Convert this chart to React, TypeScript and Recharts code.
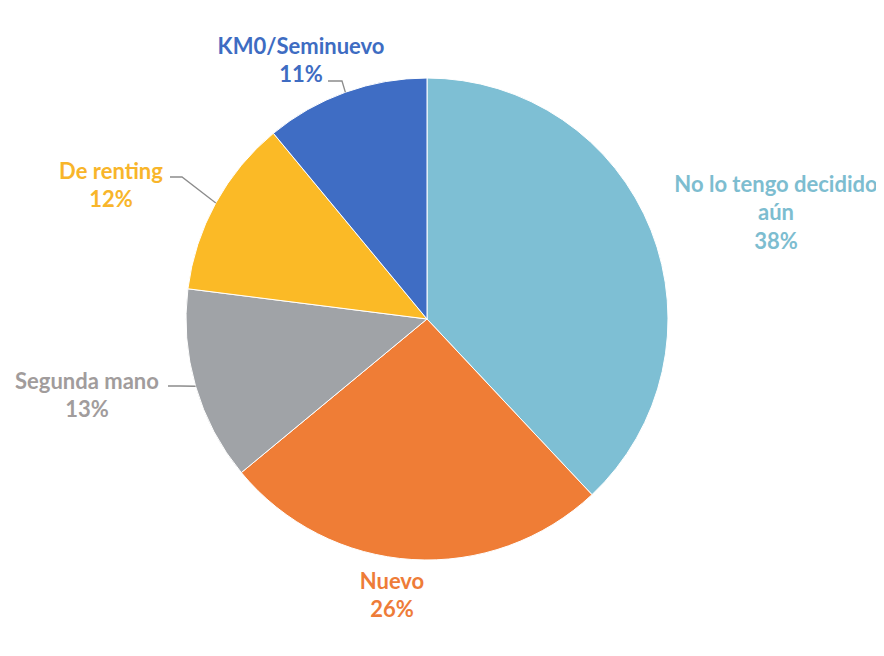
import React from "react";
import { PieChart, Pie, Cell } from "recharts";

const categories = ["No lo tengo decidido aún", "Nuevo", "Segunda mano", "De renting", "KM0/Seminuevo"];
const labelLines = [["No lo tengo decidido", "aún"], ["Nuevo"], ["Segunda mano"], ["De renting"], ["KM0/Seminuevo"]];
const values = [38, 26, 13, 12, 11];
const sliceColors = ["#7EBFD4", "#EF7D36", "#A0A3A7", "#FBBA26", "#3F6DC4"];
const textColors = ["#7DBDD0", "#EE7C38", "#A19C9C", "#F8B52A", "#3E6CC2"];

const data = categories.map((name, i) => ({ name, value: values[i] }));

// label layout (offsets from pie centre)
const LAYOUT = [
  { dx: 349, y0: -136, leader: null },
  { dx: -35, y0: 261, leader: null },
  { dx: -340, y0: 61, leader: { ex: -247, ey: 67, lx: -259 } },
  { dx: -316, y0: -149, leader: { ex: -245, ey: -142, lx: -257 } },
  { dx: -126, y0: -274, leader: { ex: -85, ey: -238, lx: -99 } },
];
const LINE_H = 28.5;
const RAD = Math.PI / 180;

const renderLabel = (props: any) => {
  const { cx, cy, midAngle, outerRadius, index, value } = props;
  const lay = LAYOUT[index];
  const lines = [...labelLines[index], `${value}%`];
  const color = textColors[index];
  let leader = null;
  if (lay.leader) {
    const px = cx + outerRadius * Math.cos(-midAngle * RAD);
    const py = cy + outerRadius * Math.sin(-midAngle * RAD);
    const l = lay.leader;
    leader = (
      <polyline
        points={`${px},${py} ${cx + l.ex},${cy + l.ey} ${cx + l.lx},${cy + l.ey}`}
        fill="none"
        stroke="#8C8C8C"
        strokeWidth={1.3}
      />
    );
  }
  return (
    <g key={`lbl-${index}`}>
      {leader}
      <text
        x={cx + lay.dx}
        y={cy + lay.y0}
        fill={color}
        textAnchor="middle"
        fontFamily="Lato, 'Open Sans', sans-serif"
        fontWeight={700}
        fontSize={22}
      >
        {lines.map((t, i) => (
          <tspan key={i} x={cx + lay.dx} y={cy + lay.y0 + i * LINE_H} dominantBaseline="central">
            {t}
          </tspan>
        ))}
      </text>
    </g>
  );
};

export default function App() {
  return (
    <div style={{ width: 876, height: 640, background: "#fff" }}>
      <PieChart width={876} height={640} margin={{ top: 0, right: 0, bottom: 0, left: 0 }}>
        <Pie
          data={data}
          dataKey="value"
          nameKey="name"
          cx={419}
          cy={311}
          outerRadius={241}
          startAngle={90}
          endAngle={-270}
          stroke="#ffffff"
          strokeWidth={1}
          label={renderLabel}
          labelLine={false}
          isAnimationActive={false}
        >
          {data.map((d, i) => (
            <Cell key={d.name} fill={sliceColors[i]} />
          ))}
        </Pie>
      </PieChart>
    </div>
  );
}
